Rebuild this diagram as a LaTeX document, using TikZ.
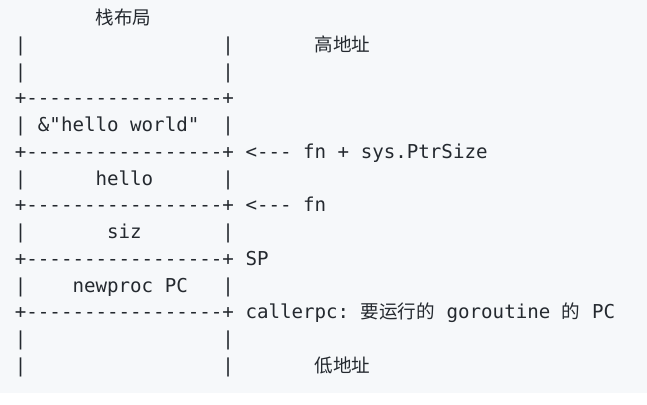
\documentclass[tikz,border=0pt]{standalone}
\usepackage{fontspec}
\setmonofont{DejaVu Sans Mono}
\newfontfamily\cjk[Scale=0.97]{Noto Sans CJK SC}
\usepackage{xcolor}
\usepackage{tikz}
\usetikzlibrary{positioning}
\definecolor{codebg}{HTML}{F6F8FA}
\definecolor{codefg}{HTML}{24292F}
\newcommand\colw{11.53}
\newcommand\rowh{26.72}
\tikzset{
    ascii/.style={
        anchor=base west,
        inner sep=0pt,
        outer sep=0pt,
        text=codefg,
        font=\ttfamily\fontsize{19.15}{23}\selectfont,
    },
    atcol/.style={
        xshift=#1*\colw,
    },
}

\begin{document}
\begin{tikzpicture}[x=1pt,y=-1pt]

    \fill[codebg] (0,0) rectangle (647,393);
    \useasboundingbox (0,0) rectangle (647,404);

    \foreach \r in {0,...,13}
    {
        \coordinate (r\r) at (14.9, {24.8+\r*\rowh});
    }

    \node[ascii, atcol=7] (title) at (r0) {\cjk 栈布局};

    % box sides and edges
    \foreach \r in {1,2,4,6,8,10,12,13}
    {
        \node[ascii] (lbar\r) at (r\r) {|};
        \node[ascii, atcol=18] (rbar\r) at (r\r) {|};
    }
    \foreach \r in {3,5,7,9,11}
    {
        \node[ascii] (edge\r) at (r\r) {+-----------------+};
    }

    % slots
    \node[ascii, atcol=2] (strref) at (r4) {\&"hello world"};
    \node[ascii, atcol=7] (hello) at (r6) {hello};
    \node[ascii, atcol=8] (siz) at (r8) {siz};
    \node[ascii, atcol=5] (newprocpc) at (r10) {newproc PC};

    % addresses
    \node[ascii, atcol=26] (high) at (r1) {\cjk 高地址};
    \node[ascii, atcol=20] (ptrsize) at (r5) {<--- fn + sys.PtrSize};
    \node[ascii, atcol=20] (fn) at (r7) {<--- fn};
    \node[ascii, atcol=20] (sp) at (r9) {SP};
    \node[ascii, atcol=20] (callerpc) at (r11) {callerpc: {\cjk 要运行的} goroutine {\cjk 的} PC};
    \node[ascii, atcol=26] (low) at (r13) {\cjk 低地址};

\end{tikzpicture}
\end{document}
